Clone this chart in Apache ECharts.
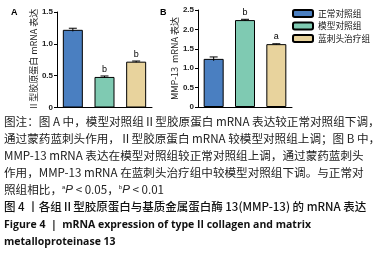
<!DOCTYPE html>
<html>
<head>
<meta charset="utf-8">
<script src="https://cdn.jsdelivr.net/npm/echarts@6/dist/echarts.min.js"></script>
<style>
  html, body { margin: 0; padding: 0; background: #fff; }
  #chart { width: 379px; height: 255px; }
</style>
</head>
<body>
<div id="chart"></div>
<script>
var groups = ['正常对照组', '模型对照组', '蓝刺头治疗组']
var colors = ['#4a7fc1', '#7fcab2', '#e8d39d']

// 图 A: II型胶原蛋白 mRNA
var valuesA = [1.22, 0.48, 0.72]
var errorsA = [0.025, 0.015, 0.01]
var sigA = ['', 'b', 'b']
var ticksA = [0, 0.5, 1.0, 1.5]

// 图 B: MMP-13 mRNA
var valuesB = [1.24, 2.24, 1.62]
var errorsB = [0.05, 0.02, 0.01]
var sigB = ['', 'b', 'a']
var ticksB = [0, 0.5, 1.0, 1.5, 2.0, 2.5]

var captionLines = [
  '图注：图 A 中，模型对照组Ⅱ型胶原蛋白 mRNA 表达较正常对照组下调，',
  '通过蒙药蓝刺头作用，Ⅱ型胶原蛋白 mRNA 较模型对照组上调；图 B 中，',
  'MMP-13 mRNA 表达在模型对照组较正常对照组上调，通过蒙药蓝刺头',
  '作用，MMP-13 mRNA 在蓝刺头治疗组中较模型对照组下调。与正常对'
]

var chart = echarts.init(document.getElementById('chart'))

function errorSeries(gridIdx, vals, errs) {
  return {
    type: 'custom',
    xAxisIndex: gridIdx,
    yAxisIndex: gridIdx,
    z: 5,
    silent: true,
    data: vals.map(function (v, i) { return [i, v, errs[i]] }),
    renderItem: function (params, api) {
      var x = api.value(0)
      var top = api.coord([x, api.value(1) + api.value(2)])
      var bot = api.coord([x, api.value(1) - api.value(2)])
      var w = 8
      var st = { stroke: '#000', lineWidth: 1 }
      return {
        type: 'group',
        children: [
          { type: 'line', shape: { x1: top[0], y1: top[1], x2: bot[0], y2: bot[1] }, style: st },
          { type: 'line', shape: { x1: top[0] - w / 2, y1: top[1], x2: top[0] + w / 2, y2: top[1] }, style: st }
        ]
      }
    }
  }
}

function barSeries(gridIdx, vals, sig) {
  return vals.map(function (v, i) {
    var d = vals.map(function () { return '-' })
    d[i] = v
    return {
      name: groups[i],
      type: 'bar',
      stack: 'g' + gridIdx,
      xAxisIndex: gridIdx,
      yAxisIndex: gridIdx,
      barWidth: 20,
      data: d,
      itemStyle: { color: colors[i], borderColor: '#000', borderWidth: 1 },
      label: {
        show: sig[i] !== '',
        position: 'top',
        distance: 3,
        formatter: sig[i],
        color: '#000',
        fontSize: 9,
        fontFamily: 'Liberation Sans'
      }
    }
  })
}

var axisLabelStyle = { color: '#222', fontSize: 8, fontWeight: 'bold', fontFamily: 'Liberation Sans', margin: 4 }

var graphics = [
  { type: 'text', left: 11, top: 8, style: { text: 'A', fontSize: 9, fontWeight: 'bold', fill: '#000', fontFamily: 'Liberation Sans' } },
  { type: 'text', left: 160, top: 8, style: { text: 'B', fontSize: 9, fontWeight: 'bold', fill: '#000', fontFamily: 'Liberation Sans' } }
]
captionLines.forEach(function (t, i) {
  graphics.push({ type: 'text', left: 4, top: 116 + i * 17, style: { text: t, fontSize: 11.6, fill: '#222', fontFamily: 'Noto Sans CJK SC' } })
})
graphics.push({
  type: 'text', left: 4, top: 184,
  style: {
    text: '照组相比，{s|a}{i|P} < 0.05，{s|b}{i|P} < 0.01',
    fontSize: 11.6, fill: '#222', fontFamily: 'Noto Sans CJK SC',
    rich: {
      s: { fontSize: 6, verticalAlign: 'top', padding: [0, 0, 6, 0], fill: '#222' },
      i: { fontStyle: 'italic', fontSize: 11.6, fontFamily: 'Liberation Sans', fill: '#222' }
    }
  }
})
graphics.push({ type: 'text', left: 4, top: 201, style: { text: '图 4 丨各组Ⅱ型胶原蛋白与基质金属蛋白酶 13(MMP-13) 的 mRNA 表达', fontSize: 11.5, fill: '#111', fontFamily: 'Noto Sans CJK SC', fontWeight: 500 } })
graphics.push({ type: 'text', left: 4, top: 220, style: { text: 'Figure 4  |  mRNA expression of type II collagen and matrix', fontSize: 10.5, fontWeight: 'bold', fill: '#111', fontFamily: 'Open Sans' } })
graphics.push({ type: 'text', left: 4, top: 237, style: { text: 'metalloproteinase 13', fontSize: 10.5, fontWeight: 'bold', fill: '#111', fontFamily: 'Open Sans' } })

var option = {
  animation: false,
  backgroundColor: '#fff',
  grid: [
    { left: 57, top: 12, width: 95, height: 95.5 },
    { left: 198, top: 10, width: 94, height: 97 }
  ],
  legend: {
    data: groups,
    orient: 'vertical',
    left: 292,
    top: 9,
    padding: 0,
    itemWidth: 20,
    itemHeight: 7,
    itemGap: 3.5,
    textStyle: { fontSize: 8.7, color: '#111', fontFamily: 'Noto Sans CJK SC' }
  },
  xAxis: [0, 1].map(function (g) {
    return {
      type: 'category',
      gridIndex: g,
      data: groups,
      axisLine: { lineStyle: { color: '#000', width: 1 } },
      axisTick: { alignWithLabel: true, length: 3, lineStyle: { color: '#000' } },
      axisLabel: { show: false }
    }
  }),
  yAxis: [
    {
      type: 'value', gridIndex: 0, min: 0, max: 1.5, interval: 0.5,
      name: 'Ⅱ型胶原蛋白 mRNA 表达', nameLocation: 'middle', nameGap: 17, nameRotate: 90,
      nameTextStyle: { fontSize: 9, color: '#222', fontFamily: 'Noto Sans CJK SC' },
      axisLine: { show: true, lineStyle: { color: '#000' } },
      axisTick: { show: true, length: 3, lineStyle: { color: '#000' } },
      splitLine: { show: false },
      axisLabel: Object.assign({ formatter: function (v) { return v === 0 ? '0' : v.toFixed(1) } }, axisLabelStyle)
    },
    {
      type: 'value', gridIndex: 1, min: 0, max: 2.5, interval: 0.5,
      name: 'MMP-13  mRNA 表达', nameLocation: 'middle', nameGap: 16, nameRotate: 90,
      nameTextStyle: { fontSize: 9, color: '#222', fontFamily: 'Noto Sans CJK SC' },
      axisLine: { show: true, lineStyle: { color: '#000' } },
      axisTick: { show: true, length: 3, lineStyle: { color: '#000' } },
      splitLine: { show: false },
      axisLabel: Object.assign({ formatter: function (v) { return v === 0 ? '0' : v.toFixed(1) } }, axisLabelStyle)
    }
  ],
  graphic: graphics,
  series: [].concat(
    barSeries(0, valuesA, sigA),
    barSeries(1, valuesB, sigB),
    [errorSeries(0, valuesA, errorsA), errorSeries(1, valuesB, errorsB)]
  )
}

chart.setOption(option)
</script>
</body>
</html>
